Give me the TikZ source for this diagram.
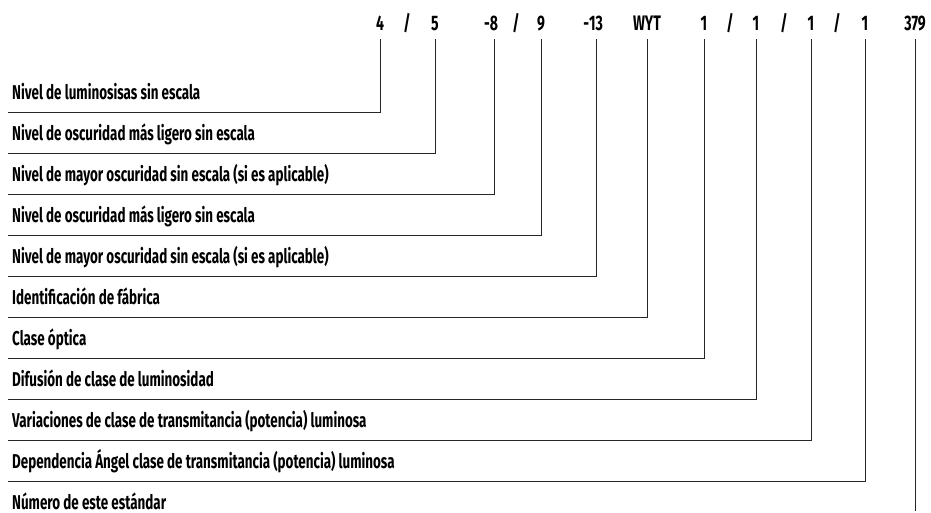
\documentclass[tikz,border=0pt]{standalone}
\usepackage{fontspec}
\newfontfamily\condfont[FakeStretch=0.67]{Fira Sans}
\usetikzlibrary{positioning}

\begin{document}
\begin{tikzpicture}[
	x=1pt, y=-1pt,
	code/.style={anchor=base, inner xsep=0pt, inner ysep=8pt, text depth=0pt, font=\condfont\bfseries\fontsize{21}{21}\selectfont},
	desc/.style={anchor=south west, inner xsep=4pt, inner ysep=10pt, text height=14pt, text depth=3pt, font=\condfont\bfseries\fontsize{20}{20}\selectfont},
	link/.style={draw=black!85, line width=1pt}
]
\useasboundingbox (0,0) rectangle (931,513);

\node[code] (c1) at (380,31) {4};
\node[code] (sl1) at (407,31) {/};
\node[code] (c2) at (435,31) {5};
\node[code] (c3) at (494,31) {\llap{-}8};
\node[code] (sl2) at (516,31) {/};
\node[code] (c4) at (541,31) {9};
\node[code] (c5) at (596,31) {\llap{-}13};
\node[code] (c6) at (647,31) {WYT};
\node[code] (c7) at (704,31) {1};
\node[code] (sl3) at (730,31) {/};
\node[code] (c8) at (756,31) {1};
\node[code] (sl4) at (784,31) {/};
\node[code] (c9) at (811,31) {1};
\node[code] (sl5) at (837,31) {/};
\node[code] (c10) at (865,31) {1};
\node[code] (c11) at (915,31) {379};

\node[desc] (l1) at (8,113) {Nivel de luminosisas sin escala};
\node[desc, below=3.56pt of l1.south west, anchor=north west] (l2) {Nivel de oscuridad más ligero sin escala};
\node[desc, below=3.56pt of l2.south west, anchor=north west] (l3) {Nivel de mayor oscuridad sin escala (si es aplicable)};
\node[desc, below=3.56pt of l3.south west, anchor=north west] (l4) {Nivel de oscuridad más ligero sin escala};
\node[desc, below=3.56pt of l4.south west, anchor=north west] (l5) {Nivel de mayor oscuridad sin escala (si es aplicable)};
\node[desc, below=3.56pt of l5.south west, anchor=north west] (l6) {Identificación de fábrica};
\node[desc, below=3.56pt of l6.south west, anchor=north west] (l7) {Clase óptica};
\node[desc, below=3.56pt of l7.south west, anchor=north west] (l8) {Difusión de clase de luminosidad};
\node[desc, below=3.56pt of l8.south west, anchor=north west] (l9) {Variaciones de clase de transmitancia (potencia) luminosa};
\node[desc, below=3.56pt of l9.south west, anchor=north west] (l10) {Dependencia Ángel clase de transmitancia (potencia) luminosa};
\node[desc, inner ysep=2pt, below=11.56pt of l10.south west, anchor=north west] (l11) {Número de este estándar};
\coordinate (tail) at (915,511);

\draw[link] (l1.south west) -| (c1.south);
\draw[link] (l2.south west) -| (c2.south);
\draw[link] (l3.south west) -| (c3.south);
\draw[link] (l4.south west) -| (c4.south);
\draw[link] (l5.south west) -| (c5.south);
\draw[link] (l6.south west) -| (c6.south);
\draw[link] (l7.south west) -| (c7.south);
\draw[link] (l8.south west) -| (c8.south);
\draw[link] (l9.south west) -| (c9.south);
\draw[link] (l10.south west) -| (c10.south);
\draw[link] (c11.south) -- (tail);

\end{tikzpicture}
\end{document}
